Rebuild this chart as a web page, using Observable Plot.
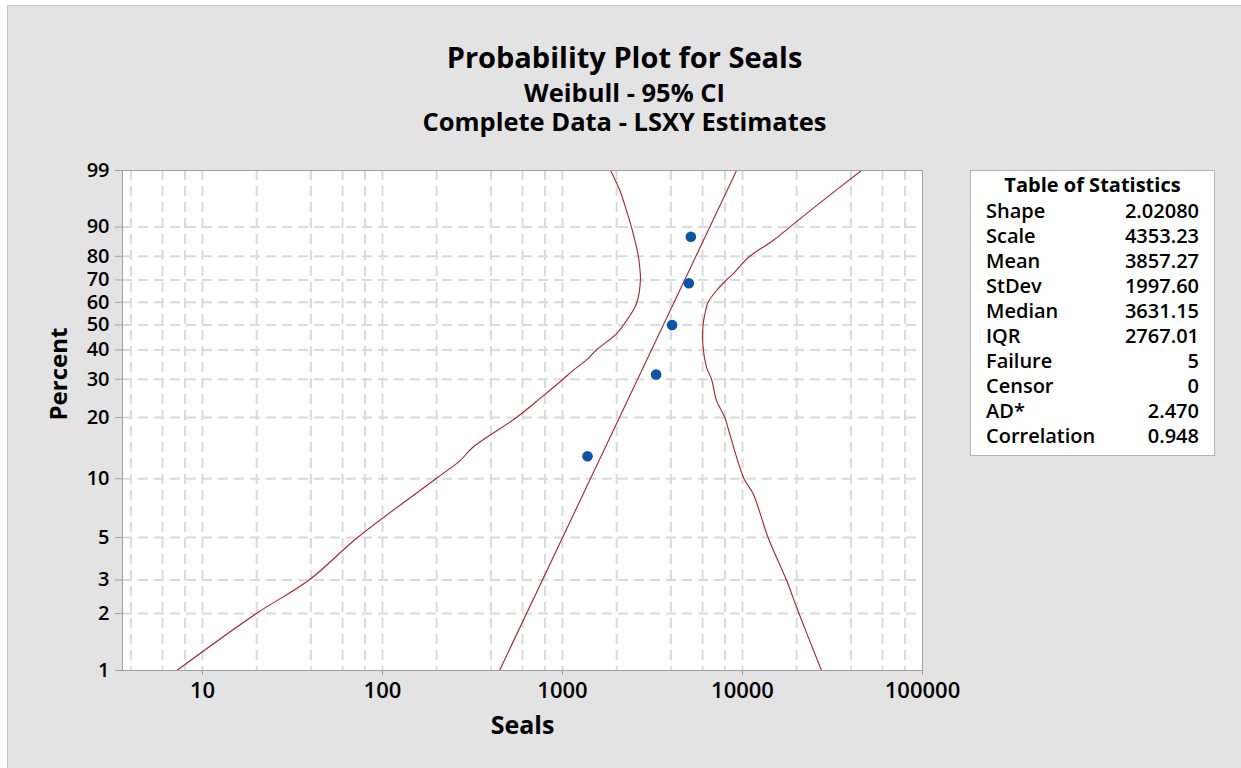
<!DOCTYPE html>
<html>
<head>
<meta charset="utf-8">
<script src="https://cdn.jsdelivr.net/npm/d3@7"></script>
<script src="https://cdn.jsdelivr.net/npm/@observablehq/plot@0.6"></script>
<style>
  body { margin: 0; background: #ffffff; font-family: "Open Sans", sans-serif; color: #000; }
  #panel { position: absolute; left: 7px; top: 5px; width: 1234px; height: 763px;
           background: #e3e3e3; border-left: 1px solid #c4c4c4; border-top: 1px solid #c4c4c4; }
  #chart { position: absolute; left: 0; top: 0; }
  .title { position: absolute; left: 0; width: 1249px; text-align: center; line-height: 1; font-weight: 700; white-space: nowrap; }
  #stats { position: absolute; left: 970px; top: 170px; width: 243px; height: 284px;
           background: #fff; border: 1px solid #b4b4b4; }
  #stats .head { position: absolute; left: 0; width: 100%; text-align: center; font-weight: 700; font-size: 20px; line-height: 1; }
  #stats .row { position: absolute; left: 15px; right: 15px; font-size: 20px; line-height: 1; font-weight: 600; }
  #stats .row span:last-child { float: right; }
</style>
</head>
<body>
<div id="panel"></div>
<div id="chart"></div>
<div class="title" style="top:41.5px;font-size:29px;">Probability Plot for Seals</div>
<div class="title" style="top:79.5px;font-size:25.5px;">Weibull - 95% CI</div>
<div class="title" style="top:108.5px;font-size:25.5px;">Complete Data - LSXY Estimates</div>
<div id="stats"></div>
<script>
// Weibull probability paper: percent -> ln(-ln(1 - p))
const W = p => Math.log(-Math.log(1 - p / 100));

// Axis ticks and grid positions
const xTicks = [10, 100, 1000, 10000, 100000];
const xGrid = [4, 6, 8, 10, 20, 40, 60, 80, 100, 200, 400, 600, 800, 1000,
               2000, 4000, 6000, 8000, 10000, 20000, 40000, 60000, 80000];
const yTicks = [1, 2, 3, 5, 10, 20, 30, 40, 50, 60, 70, 80, 90, 99];
const yGrid = [2, 3, 5, 10, 20, 30, 40, 50, 60, 70, 80, 90];

// Observed seal failures and their plotting positions (percent)
const seals = [1377, 3311, 4064, 5031, 5164];
const ranks = [12.96, 31.48, 50.0, 68.52, 87.04];

// Fitted Weibull parameters (LSXY)
const shape = 2.02080;
const scale = 4353.23;

// 95% confidence band: [Seals, Percent]
const lowerBand = [[7.2, 1], [19.9, 2], [39.1, 3], [72.7, 5], [198, 10], [269, 12.3], [319, 14.4],
  [555, 20], [748, 24.5], [1007, 30], [1146, 32.8], [1360, 36.4], [1545, 40], [1995, 46.3],
  [2180, 50], [2466, 56.3], [2594, 60], [2710, 70], [2686, 75.5], [2640, 80], [2576, 83.5],
  [2417, 90], [2268, 94], [2081, 97.3], [1849, 99]];
const upperBand = [[27480, 1], [20600, 2], [17540, 3], [13870, 5], [11460, 8.4], [10200, 10],
  [8490, 16.7], [7980, 20], [7176, 24], [6730, 30], [6310, 33.9], [6040, 41], [6040, 50],
  [6310, 57.8], [6440, 60], [7176, 65.3], [8150, 70], [8870, 72.7], [10980, 80], [14790, 85.8],
  [18330, 90], [28050, 95.9], [45810, 99]];

// Table of statistics
const statLabels = ["Shape", "Scale", "Mean", "StDev", "Median", "IQR", "Failure", "Censor", "AD*", "Correlation"];
const statValues = [shape.toFixed(5), scale.toFixed(2), "3857.27", "1997.60", "3631.15", "2767.01", "5", "0", "2.470", "0.948"];

// Fitted line across the percent range, from shape and scale
const fitLine = [yTicks[0], yTicks[yTicks.length - 1]].map(p => [scale * Math.pow(-Math.log(1 - p / 100), 1 / shape), p]);

const points = seals.map((s, i) => ({seals: s, percent: ranks[i]}));
const yLabel = v => yTicks.find(p => Math.abs(W(p) - v) < 1e-9);

const red = "#a3262a";
const chart = Plot.plot({
  width: 1241,
  height: 768,
  marginTop: 170,
  marginLeft: 122,
  marginRight: 319,
  marginBottom: 98,
  style: {background: "transparent", fontFamily: "Open Sans, sans-serif", color: "#000"},
  x: {type: "log", domain: [3.594, 100000]},
  y: {type: "linear", domain: [W(1), W(99)]},
  marks: [
    Plot.frame({fill: "#ffffff", stroke: null}),
    Plot.ruleX(xGrid, {stroke: "#dadada", strokeWidth: 2, strokeDasharray: "10,6"}),
    Plot.ruleY(yGrid.map(W), {stroke: "#dadada", strokeWidth: 2, strokeDasharray: "10,6"}),
    Plot.line(lowerBand, {x: d => d[0], y: d => W(d[1]), stroke: red, strokeWidth: 1.1, curve: "catmull-rom"}),
    Plot.line(upperBand, {x: d => d[0], y: d => W(d[1]), stroke: red, strokeWidth: 1.1, curve: "catmull-rom"}),
    Plot.line(fitLine, {x: d => d[0], y: d => W(d[1]), stroke: red, strokeWidth: 1.1}),
    Plot.dot(points, {x: "seals", y: d => W(d.percent), r: 5.3, fill: "#0a55a5", stroke: null}),
    Plot.frame({stroke: "#a0a0a0"}),
    Plot.axisX(xTicks, {tickSize: 5, tickPadding: 7, fontSize: 22, fontWeight: 600, stroke: "#a0a0a0", fill: "#000",
      tickFormat: d => String(d), label: null}),
    Plot.axisY(yTicks.map(W), {tickSize: 7, tickPadding: 6, fontSize: 20, fontWeight: 600, stroke: "#a0a0a0", fill: "#000",
      tickFormat: yLabel, label: null}),
    Plot.text(["Seals"], {frameAnchor: "bottom", dy: 63, fontSize: 25, fontWeight: "bold", fill: "#000"}),
    Plot.text(["Percent"], {frameAnchor: "left", dx: -63, rotate: -90, fontSize: 24, fontWeight: "bold", fill: "#000"})
  ]
});
document.getElementById("chart").appendChild(chart);

// Statistics box
const box = document.getElementById("stats");
const head = document.createElement("div");
head.className = "head";
head.style.top = (192.3 - 170 - 1 - 0.888 * 20) + "px";
head.textContent = "Table of Statistics";
box.appendChild(head);
statLabels.forEach((label, i) => {
  const row = document.createElement("div");
  row.className = "row";
  row.style.top = (218.3 + i * 25.05 - 170 - 1 - 0.888 * 20) + "px";
  row.innerHTML = `<span>${label}</span><span>${statValues[i]}</span>`;
  box.appendChild(row);
});
</script>
</body>
</html>
